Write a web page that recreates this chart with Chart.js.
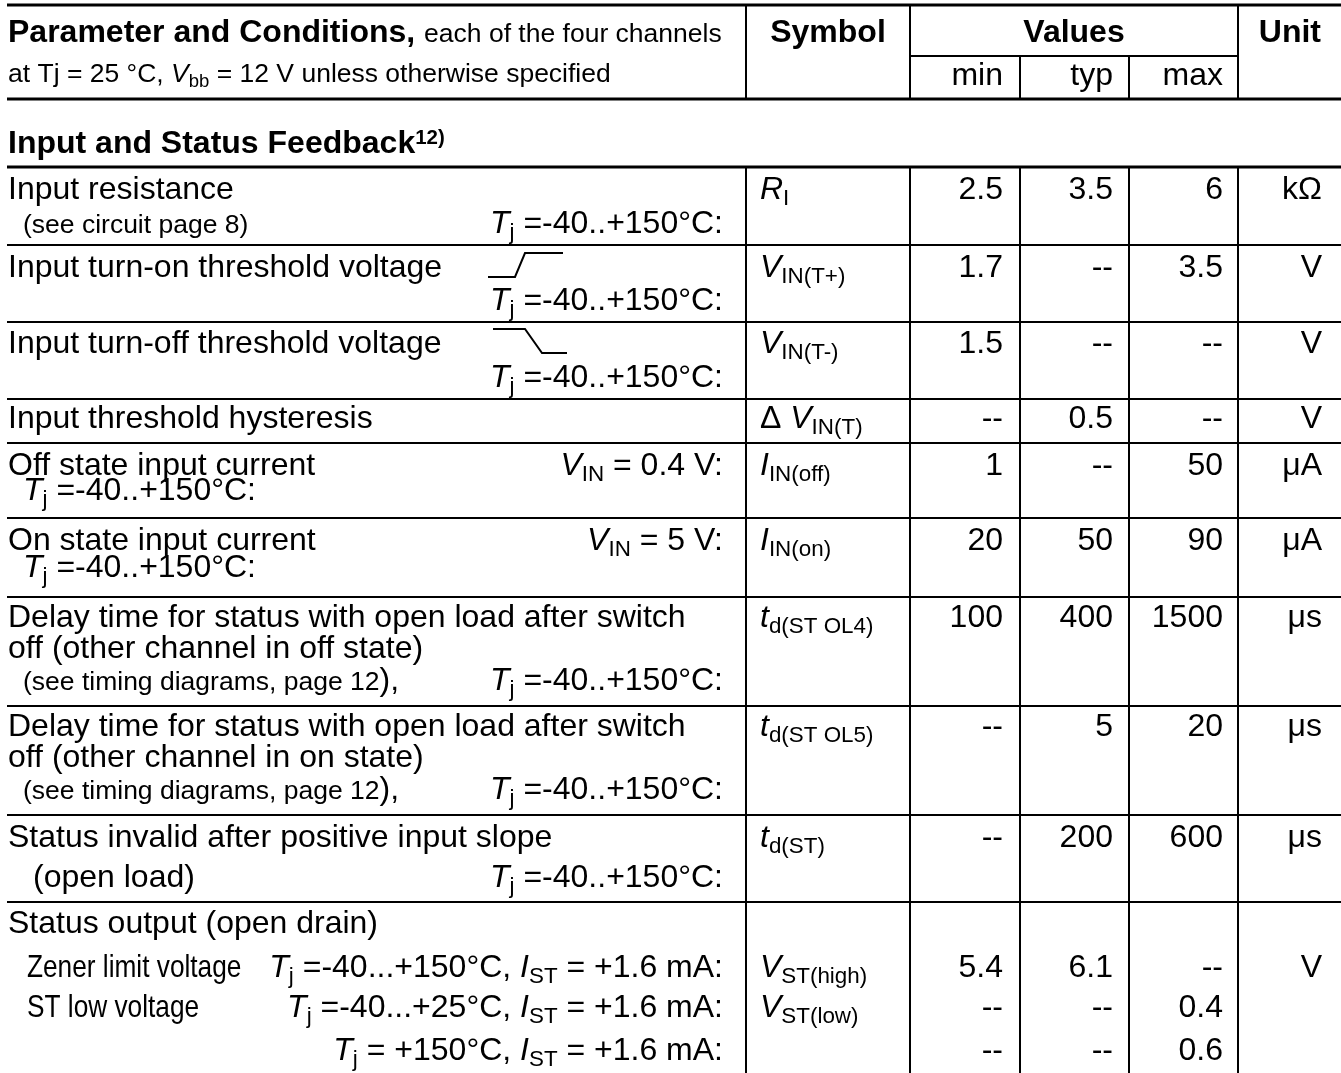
<!DOCTYPE html>
<html lang="en">
<head>
<meta charset="UTF-8" />
<title>Input and Status Feedback</title>
<script src="https://cdn.jsdelivr.net/npm/chart.js@4"></script>
<style>
  html, body { margin: 0; padding: 0; background: #fff; }
  #wrap { width: 1341px; height: 1073px; }
</style>
</head>
<body>
<div id="wrap"><canvas id="specChart" width="1341" height="1073"></canvas></div>
<script>
// markup: *italic*  !bold!  ~small~  %narrow%  _{sub}  ^{sup}
const headerLine1 = '!Parameter and Conditions,! ~each of the four channels~';
const headerLine2 = '~at Tj = 25 °C, *V*_{bb} = 12 V unless otherwise specified~';
const headerCols = ['Symbol', 'Values', 'Unit'];
const valueCols = ['min', 'typ', 'max'];
const sectionTitle = '!Input and Status Feedback^{12)}!';

const paramLines = [
  ['Input resistance', '~(see circuit page 8)~'],
  ['Input turn-on threshold voltage'],
  ['Input turn-off threshold voltage'],
  ['Input threshold hysteresis'],
  ['Off state input current', '*T*_{j} =-40..+150°C:'],
  ['On state input current', '*T*_{j} =-40..+150°C:'],
  ['Delay time for status with open load after switch', 'off (other channel in off state)', '~(see timing diagrams, page 12~),'],
  ['Delay time for status with open load after switch', 'off (other channel in on state)', '~(see timing diagrams, page 12~),'],
  ['Status invalid after positive input slope', '(open load)'],
  ['Status output (open drain)', '%Zener limit voltage%', '%ST low voltage%']
];
const conditions = [
  ['*T*_{j} =-40..+150°C:'],
  ['*T*_{j} =-40..+150°C:'],
  ['*T*_{j} =-40..+150°C:'],
  [],
  ['*V*_{IN} = 0.4 V:'],
  ['*V*_{IN} = 5 V:'],
  ['*T*_{j} =-40..+150°C:'],
  ['*T*_{j} =-40..+150°C:'],
  ['*T*_{j} =-40..+150°C:'],
  ['*T*_{j} =-40...+150°C, *I*_{ST} = +1.6 mA:', '*T*_{j} =-40...+25°C, *I*_{ST} = +1.6 mA:', '*T*_{j} = +150°C, *I*_{ST} = +1.6 mA:']
];
const edgeMarks = [null, 'rise', 'fall', null, null, null, null, null, null, null];
const symbols = [
  ['*R*_{I}'], ['*V*_{IN(T+)}'], ['*V*_{IN(T-)}'], ['Δ *V*_{IN(T)}'], ['*I*_{IN(off)}'],
  ['*I*_{IN(on)}'], ['*t*_{d(ST OL4)}'], ['*t*_{d(ST OL5)}'], ['*t*_{d(ST)}'],
  ['*V*_{ST(high)}', '*V*_{ST(low)}']
];
const minValues = [['2.5'], ['1.7'], ['1.5'], ['--'], ['1'], ['20'], ['100'], ['--'], ['--'], ['5.4', '--', '--']];
const typValues = [['3.5'], ['--'], ['--'], ['0.5'], ['--'], ['50'], ['400'], ['5'], ['200'], ['6.1', '--', '--']];
const maxValues = [['6'], ['3.5'], ['--'], ['--'], ['50'], ['90'], ['1500'], ['20'], ['600'], ['--', '0.4', '0.6']];
const units = ['kΩ', 'V', 'V', 'V', 'μA', 'μA', 'μs', 'μs', 'μs', 'V'];

// ---- layout (page units, mapped through the chart scales) ----
const FONT = '"Liberation Sans", Arial, Helvetica, sans-serif';
const BASE = 32, SMALL = 26.5;
const COL = { left: 7, param: 746, sym: 910, min: 1020, typ: 1129, max: 1238, right: 1341 };
const ROWS = [
  { top: 167, lines: [[8, 32], [23, 66]], cond: [66], marks: [32] },
  { top: 245, lines: [[8, 32]], cond: [65], marks: [32] },
  { top: 322, lines: [[8, 31]], cond: [65], marks: [31] },
  { top: 399, lines: [[8, 29]], cond: [], marks: [29] },
  { top: 443, lines: [[8, 32], [23, 57]], cond: [32], marks: [32] },
  { top: 518, lines: [[8, 32], [23, 59]], cond: [32], marks: [32] },
  { top: 597, lines: [[8, 30], [8, 61], [23, 93]], cond: [93], marks: [30] },
  { top: 706, lines: [[8, 30], [8, 61], [23, 93]], cond: [93], marks: [30] },
  { top: 815, lines: [[8, 32], [33, 72]], cond: [72], marks: [32] },
  { top: 902, lines: [[8, 31], [27, 75], [27, 115]], cond: [75, 115, 158], marks: [75, 115, 158] }
];
const TABLE_BOTTOM = 1073;

function parseRich(str) {
  const runs = [];
  let italic = false, bold = false, small = false, narrow = false;
  str.split(/(\*|!|~|%|_\{[^}]*\}|\^\{[^}]*\})/).forEach(tok => {
    if (!tok) return;
    if (tok === '*') { italic = !italic; return; }
    if (tok === '!') { bold = !bold; return; }
    if (tok === '~') { small = !small; return; }
    if (tok === '%') { narrow = !narrow; return; }
    let size = small ? SMALL : BASE, dy = 0, text = tok;
    if (tok.startsWith('_{')) { text = tok.slice(2, -1); dy = size * 0.19; size = size * 0.7; }
    else if (tok.startsWith('^{')) { text = tok.slice(2, -1); dy = -size * 0.27; size = size * 0.64; }
    runs.push({ text, italic, bold, size, dy, narrow });
  });
  return runs;
}

function fontOf(r) {
  return (r.italic ? 'italic ' : '') + (r.bold ? 'bold ' : '') + r.size + 'px ' + FONT;
}

function drawRich(ctx, str, x, y, align) {
  const runs = parseRich(str);
  let total = 0;
  runs.forEach(r => {
    ctx.font = fontOf(r);
    r.w = ctx.measureText(r.text).width * (r.narrow ? 0.82 : 1);
    total += r.w;
  });
  let cx = align === 'right' ? x - total : align === 'center' ? x - total / 2 : x;
  runs.forEach(r => {
    ctx.font = fontOf(r);
    ctx.save();
    ctx.translate(cx, y + r.dy);
    if (r.narrow) ctx.scale(0.82, 1);
    ctx.fillText(r.text, 0, 0);
    ctx.restore();
    cx += r.w;
  });
}

const tablePlugin = {
  id: 'specTable',
  afterDraw(chart) {
    const ctx = chart.ctx;
    const X = v => chart.scales.x.getPixelForValue(v);
    const Y = v => chart.scales.y.getPixelForValue(v);
    const hline = (x1, x2, y, w) => ctx.fillRect(X(x1), Y(y) - w / 2, X(x2) - X(x1), w);
    const vline = (x, y1, y2, w) => ctx.fillRect(X(x) - w / 2, Y(y1), w, Y(y2) - Y(y1));

    ctx.save();
    ctx.fillStyle = '#000';
    ctx.textBaseline = 'alphabetic';

    // header
    hline(COL.left, COL.right, 5, 3);
    hline(COL.sym, COL.max, 56, 2);
    hline(COL.left, COL.right, 99, 3);
    [COL.param, COL.sym, COL.max].forEach(x => vline(x, 5, 99, 2));
    [COL.min, COL.typ].forEach(x => vline(x, 56, 99, 2));
    drawRich(ctx, headerLine1, X(8), Y(42));
    drawRich(ctx, headerLine2, X(8), Y(82));
    drawRich(ctx, '!' + headerCols[0] + '!', X((COL.param + COL.sym) / 2), Y(42), 'center');
    drawRich(ctx, '!' + headerCols[1] + '!', X((COL.sym + COL.max) / 2), Y(42), 'center');
    drawRich(ctx, '!' + headerCols[2] + '!', X(1321), Y(42), 'right');
    const valRight = [COL.min - 17, COL.typ - 16, COL.max - 15];
    valueCols.forEach((t, i) => drawRich(ctx, t, X(valRight[i]), Y(85), 'right'));

    // section title
    drawRich(ctx, sectionTitle, X(8), Y(153));
    hline(COL.left, COL.right, 167, 3);

    // body grid
    [COL.param, COL.sym, COL.min, COL.typ, COL.max].forEach(x => vline(x, 167, TABLE_BOTTOM, 2));
    ROWS.forEach((row, i) => {
      if (i > 0) hline(COL.left, COL.right, row.top, 2);
      paramLines[i].forEach((t, j) => drawRich(ctx, t, X(row.lines[j][0]), Y(row.top + row.lines[j][1])));
      conditions[i].forEach((t, j) => drawRich(ctx, t, X(723), Y(row.top + row.cond[j]), 'right'));
      symbols[i].forEach((t, j) => drawRich(ctx, t, X(760), Y(row.top + row.marks[j]), 'left'));
      [minValues, typValues, maxValues].forEach((col, k) => {
        col[i].forEach((t, j) => drawRich(ctx, t, X(valRight[k]), Y(row.top + row.marks[j]), 'right'));
      });
      drawRich(ctx, units[i], X(1322), Y(row.top + row.marks[0]), 'right');

      if (edgeMarks[i]) {
        const pts = edgeMarks[i] === 'rise'
          ? [[488, 32], [515, 32], [525, 8], [563, 8]]
          : [[493, 7], [525, 7], [542, 31], [567, 31]];
        ctx.beginPath();
        pts.forEach((p, k) => ctx[k ? 'lineTo' : 'moveTo'](X(p[0]), Y(row.top + p[1])));
        ctx.lineWidth = 2;
        ctx.strokeStyle = '#000';
        ctx.stroke();
      }
    });
    ctx.restore();
  }
};

new Chart(document.getElementById('specChart'), {
  type: 'scatter',
  data: { datasets: [] },
  options: {
    responsive: false,
    animation: false,
    layout: { padding: 0 },
    plugins: { legend: { display: false }, tooltip: { enabled: false } },
    scales: {
      x: { type: 'linear', min: 0, max: 1341, display: false },
      y: { type: 'linear', min: 0, max: 1073, reverse: true, display: false }
    }
  },
  plugins: [tablePlugin]
});
</script>
</body>
</html>
